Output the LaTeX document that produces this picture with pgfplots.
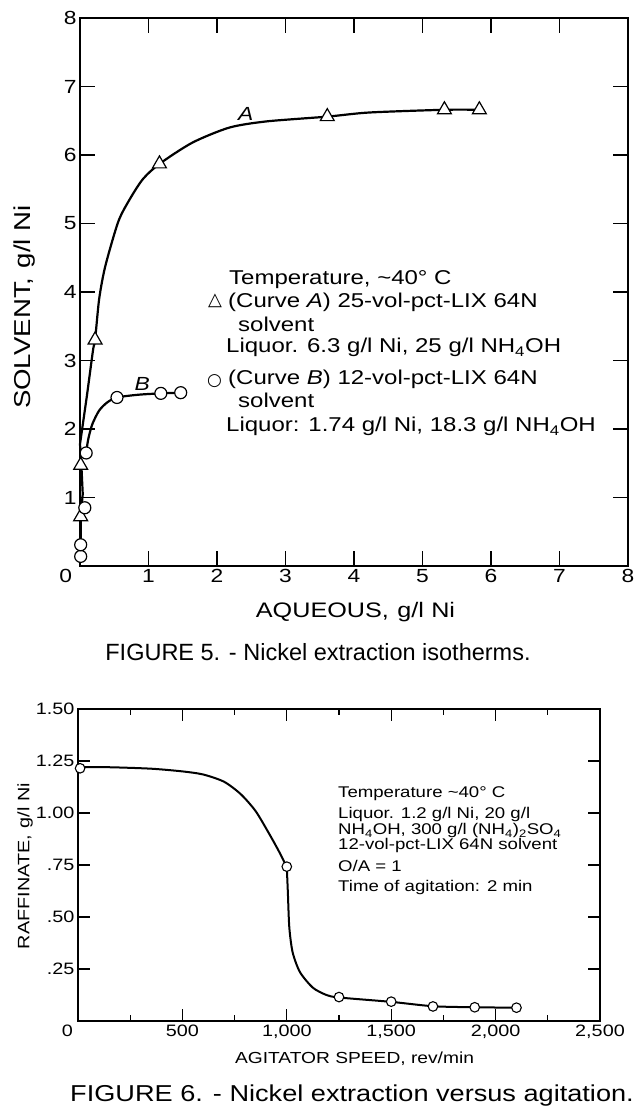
\documentclass[border=0pt]{standalone}
\usepackage{fontspec}
\setmainfont{Liberation Sans}
\newfontfamily\wide{Liberation Sans}[FakeStretch=1.2]
\newfontfamily\capwide{Liberation Sans}[FakeStretch=1.18]
\newfontfamily\symfont{DejaVu Sans}
\usepackage{pgfplots}
\pgfplotsset{compat=1.18}
\newcommand{\fs}[1]{\fontsize{#1}{#1}\selectfont}
\begin{document}
\begin{tikzpicture}[x=1pt,y=1pt]
\useasboundingbox (0,0) rectangle (644,1108);
% ---------------- FIGURE 5 ----------------
\begin{axis}[
  scale only axis, width=548pt, height=548pt,
  at={(80pt,542pt)}, anchor=south west,
  xmin=0, xmax=8, ymin=0, ymax=8,
  xtick={0,...,8}, ytick={1,...,8},
  xticklabels={\makebox[0pt][r]{0\hspace{8pt}},1,2,3,4,5,6,7,8},
  tick align=inside, tick pos=both,
  major tick length=15pt,
  every tick/.style={black, line width=1.4pt},
  axis line style={line width=1.8pt},
  tick label style={font=\wide\fs{19}},
  /pgf/number format/assume math mode=true,
  clip=false,
]
% curve A
\addplot[black, line width=2.2pt, sharp plot] coordinates {
 (0.01,0.31) (0.01,0.72) (0.04,1.05) (0.02,1.47) (0.0,1.78)};
\addplot[black, line width=2.2pt, smooth, tension=0.45] coordinates {
 (0.0,1.78) (0.1,2.48) (0.19,3.15) (0.22,3.30) (0.28,3.9) (0.37,4.38)
 (0.56,5.03) (0.73,5.36) (0.92,5.65) (1.16,5.87) (1.64,6.18) (2.18,6.40)
 (2.72,6.49) (3.61,6.56) (4.22,6.62) (5.32,6.66) (5.83,6.66)};
% curve B
\addplot[black, line width=2.2pt, smooth, tension=0.45] coordinates {
 (0.09,1.65) (0.12,1.85) (0.18,2.07) (0.28,2.27) (0.40,2.39) (0.54,2.46)
 (0.85,2.50) (1.18,2.52) (1.47,2.53)};
% markers A
\addplot[only marks, mark=triangle*, mark size=8pt,
  mark options={fill=white, draw=black, line width=1.2pt}] coordinates {
 (0.01,0.72) (0.01,1.47) (0.22,3.30) (1.16,5.87) (3.61,6.56) (5.32,6.66) (5.83,6.66)};
% markers B
\addplot[only marks, mark=*, mark size=6pt,
  mark options={fill=white, draw=black, line width=1.2pt}] coordinates {
 (0.01,0.14) (0.01,0.31) (0.07,0.85) (0.09,1.65) (0.54,2.46) (1.18,2.52) (1.47,2.53)};
\node[font=\wide\fs{19}\itshape] at (axis cs:2.42,6.60) {A};
\node[font=\wide\fs{19}\itshape] at (axis cs:0.91,2.66) {B};
\end{axis}
% labels fig 5
\node[rotate=90, font=\wide\fs{23}] at (25,801) {SOLVENT,\hspace{0.4em}g/l\hspace{0.35em}Ni};
\node[font=\wide\fs{21}] at (355.5,496) {AQUEOUS,\hspace{0.4em}g/l\hspace{0.35em}Ni};
\node[font=\fs{23.5}] at (318,456) {FIGURE 5. - Nickel extraction isotherms.};
\begin{scope}[every node/.style={font=\wide\fs{20}, inner sep=0pt, anchor=base west}]
\node at (229,1108-285) {Temperature, \textasciitilde 40\textdegree\ C};
\node at (228,1108-308) {(Curve \textit{A}) 25-vol-pct-LIX 64N};
\node at (238,1108-332) {solvent};
\node at (226,1108-353) {Liquor. 6.3 g/l Ni, 25 g/l NH\textsubscript{4}OH};
\node at (228,1108-385) {(Curve \textit{B}) 12-vol-pct-LIX 64N};
\node at (238,1108-408) {solvent};
\node at (226,1108-432) {Liquor: 1.74 g/l Ni, 18.3 g/l NH\textsubscript{4}OH};
\end{scope}
\node[font=\symfont\fs{18}, inner sep=0pt] at (215,1108-301) {△};
\node[font=\symfont\fs{17}, inner sep=0pt] at (214.5,1108-381) {○};
% ---------------- FIGURE 6 ----------------
\begin{axis}[
  scale only axis, width=522pt, height=312pt,
  at={(78pt,87pt)}, anchor=south west,
  xmin=0, xmax=2500, ymin=0, ymax=1.5,
  xtick={0,500,...,2500}, minor xtick={250,750,...,2250},
  xticklabels={\makebox[0pt][r]{0\hspace{5pt}},500,{1,000},{1,500},{2,000},{2,500}},
  ytick={0,0.25,...,1.5},
  yticklabels={,.25,.50,.75,1.00,1.25,1.50},
  tick align=inside, tick pos=both,
  major tick length=12pt, minor tick length=6pt,
  every tick/.style={black, line width=1.2pt},
  axis line style={line width=1.6pt},
  tick label style={font=\wide\fs{16.5}},
  clip=false,
]
\addplot[black, line width=2pt, smooth, tension=0.45] coordinates {
 (10,1.22) (150,1.22) (350,1.213) (500,1.20) (600,1.185) (700,1.15) (780,1.09)
 (850,1.01) (910,0.91) (960,0.82) (1000,0.74)};
\addplot[black, line width=2pt, smooth, tension=0.45] coordinates {
 (1000,0.74) (1005,0.62) (1012,0.45) (1028,0.33) (1063,0.235) (1125,0.16)
 (1190,0.125) (1250,0.113) (1500,0.092) (1700,0.071) (1900,0.066) (2100,0.064)};
\addplot[only marks, mark=*, mark size=4.8pt,
  mark options={fill=white, draw=black, line width=1.1pt}] coordinates {
 (10,1.215) (1000,0.742) (1250,0.115) (1500,0.093) (1700,0.07) (1900,0.066) (2100,0.064)};
\end{axis}
\node[rotate=90, font=\wide\fs{16.5}] at (25,1108-866) {RAFFINATE,\hspace{0.4em}g/l\hspace{0.35em}Ni};
\node[font=\wide\fs{16}] at (354.5,1108-1059) {AGITATOR SPEED, rev/min};
\node[font=\capwide\fs{23}, anchor=base, inner sep=0pt] at (352,1108-1102) {FIGURE 6. - Nickel extraction versus agitation.};
\begin{scope}[every node/.style={font=\wide\fs{15.5}, inner sep=0pt, anchor=base west}]
\node at (338,1108-798) {Temperature \textasciitilde 40\textdegree\ C};
\node at (338,1108-819) {Liquor. 1.2 g/l Ni, 20 g/l};
\node at (338,1108-835) {NH\textsubscript{4}OH, 300 g/l (NH\textsubscript{4})\textsubscript{2}SO\textsubscript{4}};
\node at (338,1108-850) {12-vol-pct-LIX 64N solvent};
\node at (338,1108-872) {O/A = 1};
\node at (338,1108-892) {Time of agitation: 2 min};
\end{scope}
\end{tikzpicture}
\end{document}
